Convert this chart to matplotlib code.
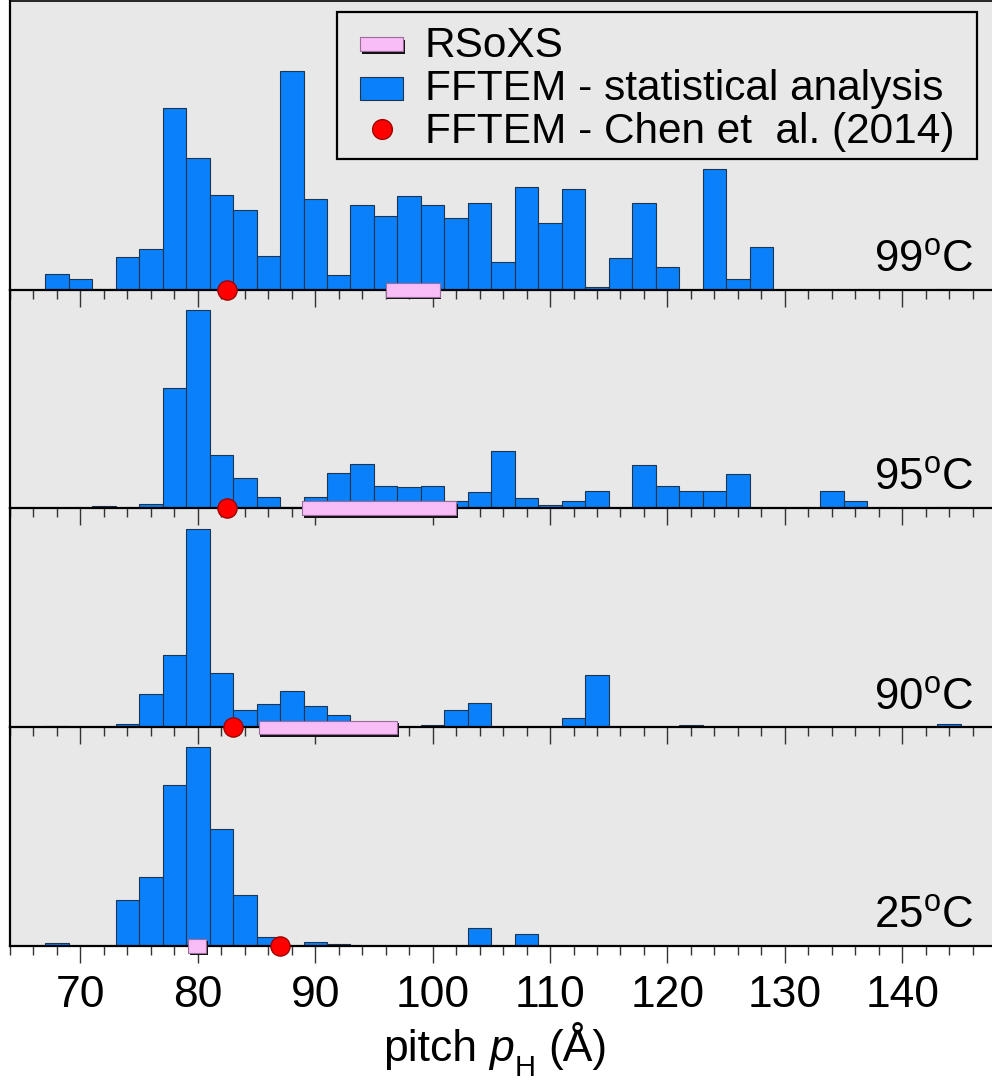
import matplotlib
matplotlib.use("Agg")
import matplotlib.pyplot as plt
import numpy as np
from matplotlib.patches import Rectangle
from matplotlib.lines import Line2D
from matplotlib import transforms
from matplotlib.ticker import MultipleLocator

plt.rcParams["font.family"] = ["Liberation Sans", "DejaVu Sans"]
plt.rcParams["mathtext.fontset"] = "custom"
plt.rcParams["mathtext.rm"] = "Liberation Sans"
plt.rcParams["mathtext.it"] = "Liberation Sans:italic"

# ---------------------------------------------------------------- data
# 2 Å wide pitch bins (centres), histograms normalised to their peak bin
bin_centers = np.arange(68, 146, 2)

hist_99C = [7.3, 4.9, 0.3, 15.2, 18.9, 83.0, 60.3, 43.4, 36.4, 15.7,
            100.0, 41.6, 6.8, 39.0, 33.7, 42.8, 38.8, 32.7, 39.7, 12.6,
            46.9, 30.5, 46.1, 1.2, 14.7, 39.9, 10.5, 0.0, 55.1, 5.2,
            19.6, 0.0, 0.0, 0.0, 0.0, 0.0, 0.0, 0.0, 0.6]
hist_95C = [0.2, 0.0, 1.0, 0.3, 2.4, 60.7, 100.0, 26.9, 15.1, 5.5,
            0.5, 5.9, 17.6, 22.2, 11.4, 10.7, 11.1, 3.5, 8.3, 29.1,
            5.0, 1.7, 3.5, 8.6, 0.0, 21.7, 11.1, 8.6, 8.6, 17.5,
            0.0, 0.0, 0.0, 8.6, 3.7, 0.0, 0.0, 0.0, 0.5]
hist_90C = [0.7, 0.0, 0.0, 1.5, 16.6, 36.3, 100.0, 27.2, 8.7, 11.7,
            18.2, 10.9, 6.2, 0.0, 0.0, 0.0, 1.2, 8.7, 12.1, 0.0,
            0.0, 0.0, 4.5, 26.6, 0.0, 0.0, 0.0, 1.0, 0.0, 0.0,
            0.0, 0.0, 0.0, 0.0, 0.0, 0.0, 0.0, 0.0, 1.5]
hist_25C = [1.4, 0.0, 0.0, 23.0, 34.6, 81.2, 100.0, 58.6, 25.6, 4.4,
            0.0, 1.7, 0.7, 0.0, 0.0, 0.0, 0.0, 0.0, 8.9, 0.0,
            6.1, 0.0, 0.0, 0.0, 0.0, 0.0, 0.0, 0.0, 0.0, 0.0,
            0.0, 0.0, 0.0, 0.0, 0.0, 0.0, 0.0, 0.0, 0.0]

temperatures = ["99", "95", "90", "25"]
histograms = [hist_99C, hist_95C, hist_90C, hist_25C]

# RSoXS pitch: centre and half range (Å)
rsoxs_center = [98.3, 95.45, 91.1, 79.95]
rsoxs_halfwidth = [2.3, 6.55, 5.9, 0.75]

# FFTEM pitch from Chen et al. (2014), Å
chen_pitch = [82.5, 82.5, 83.0, 87.0]

x_ticks_major = [70, 80, 90, 100, 110, 120, 130, 140]

# ---------------------------------------------------------------- style
W, H, DPI = 992, 1084, 100
BG = "#E8E8E8"
BLUE = "#0A80FA"
BAR_EDGE = "#1E3550"
PINK = "#F8BCF6"
PINK_EDGE = "#9A6C9A"
RED = "#FF0000"
RED_EDGE = "#A00000"
FS = 32

fig = plt.figure(figsize=(W / DPI, H / DPI), dpi=DPI, facecolor="white")


def fx(px):
    return px / W


def fy(py):
    return 1 - py / H


left_px = 10
panel_edges = [1, 290, 508.3, 727.3, 945.7]
ylims = [132.0, 110.1, 110.4, 110.1]

# grey plotting background shared by all panels
fig.patches.append(Rectangle((fx(left_px), fy(panel_edges[-1])),
                             1 - fx(left_px), fy(panel_edges[0]) - fy(panel_edges[-1]),
                             transform=fig.transFigure, facecolor=BG,
                             edgecolor="none", zorder=-5))

axes = []
for i in range(4):
    top, bot = panel_edges[i], panel_edges[i + 1]
    ax = fig.add_axes([fx(left_px), fy(bot), 1 - fx(left_px), (bot - top) / H])
    ax.set_facecolor("none")
    ax.set_xlim(64, 64 + (W - left_px) / 11.74)
    ax.set_ylim(0, ylims[i])
    ax.set_yticks([])
    ax.spines["right"].set_visible(False)
    ax.spines["top"].set_visible(i == 0)
    ax.spines["top"].set_linewidth(1.2)
    ax.spines["left"].set_linewidth(1.6)
    ax.spines["bottom"].set_linewidth(1.6)
    ax.xaxis.set_major_locator(plt.FixedLocator(x_ticks_major))
    ax.xaxis.set_minor_locator(MultipleLocator(2))
    ax.tick_params(axis="x", which="major", direction="out", length=12,
                   width=1.0, color="#333333", labelsize=FS, pad=9,
                   labelbottom=(i == 3))
    ax.tick_params(axis="x", which="minor", direction="out", length=6.2,
                   width=1.0, color="#333333")

    # histogram bars
    ax.bar(bin_centers, histograms[i], width=2, color=BLUE,
           edgecolor=BAR_EDGE, linewidth=0.8, zorder=2)

    # RSoXS range: pink bar with a drop shadow, straddling the baseline
    ah = (bot - top)
    tr = transforms.blended_transform_factory(ax.transData, ax.transAxes)
    lo = rsoxs_center[i] - rsoxs_halfwidth[i]
    wdt = 2 * rsoxs_halfwidth[i]
    shadow_tr = tr + transforms.ScaledTranslation(1.5 / DPI, -2.5 / DPI,
                                                  fig.dpi_scale_trans)
    ax.add_patch(Rectangle((lo, -6.8 / ah), wdt, 13.6 / ah, transform=shadow_tr,
                           facecolor="#111111", edgecolor="none",
                           clip_on=False, zorder=4))
    ax.add_patch(Rectangle((lo, -6.8 / ah), wdt, 13.6 / ah, transform=tr,
                           facecolor=PINK, edgecolor=PINK_EDGE, linewidth=0.8,
                           clip_on=False, zorder=5))

    # Chen et al. point
    ax.plot([chen_pitch[i]], [0], "o", ms=13.8, mfc=RED, mec=RED_EDGE,
            mew=1.0, clip_on=False, zorder=6)

    # temperature tag
    fig.text(fx(973), fy(bot - 18), temperatures[i] + r"$^{\mathregular{o}}$C",
             ha="right", va="baseline", fontsize=31.5)
    axes.append(ax)

# x-axis title, composed piecewise so the subscript sits low and large
renderer = fig.canvas.get_renderer()
label_parts = [("pitch", "normal", FS, 0, 12.3),
               ("p", "italic", FS, 0, 1.0),
               ("H", "normal", 21, -15, 12.3),
               ("(Å)", "normal", FS, 0, 0)]
label_base_y = 1061.5
pieces = []
total = 0.0
for txt, style, size, dy, gap in label_parts:
    t = fig.text(0, fy(label_base_y - dy), txt, ha="left", va="baseline",
                 fontsize=size, style=style)
    w = t.get_window_extent(renderer).width
    pieces.append((t, w, gap))
    total += w + gap
xcur = 495 - total / 2
for t, w, gap in pieces:
    t.set_x(fx(xcur))
    xcur += w + gap

# ---------------------------------------------------------------- legend
leg_l, leg_t, leg_r, leg_b = 336.7, 11.7, 977.3, 159
fig.patches.append(Rectangle((fx(leg_l), fy(leg_b)), fx(leg_r) - fx(leg_l),
                             fy(leg_t) - fy(leg_b), transform=fig.transFigure,
                             facecolor=BG, edgecolor="black", linewidth=1.6,
                             zorder=10))
sh = transforms.ScaledTranslation(1.5 / DPI, -2.5 / DPI, fig.dpi_scale_trans)
fig.patches.append(Rectangle((fx(360), fy(51)), fx(403) - fx(360), fy(37) - fy(51),
                             transform=fig.transFigure + sh, facecolor="#111111",
                             edgecolor="none", zorder=11))
fig.patches.append(Rectangle((fx(360), fy(51)), fx(403) - fx(360), fy(37) - fy(51),
                             transform=fig.transFigure, facecolor=PINK,
                             edgecolor=PINK_EDGE, linewidth=0.8, zorder=12))
fig.patches.append(Rectangle((fx(360), fy(100)), fx(403) - fx(360), fy(77) - fy(100),
                             transform=fig.transFigure, facecolor=BLUE,
                             edgecolor=BAR_EDGE, linewidth=0.8, zorder=12))
fig.lines.append(Line2D([fx(381.7)], [fy(129.3)], marker="o", ms=14.2,
                        mfc=RED, mec=RED_EDGE, mew=1.0, linestyle="none",
                        transform=fig.transFigure, zorder=12))
legend_labels = ["RSoXS", "FFTEM - statistical analysis",
                 "FFTEM - Chen et  al. (2014)"]
for lab, yb in zip(legend_labels, [56.7, 100, 143.3]):
    fig.text(fx(425), fy(yb), lab, ha="left", va="baseline", fontsize=30.5,
             zorder=13)

fig.savefig("out.png", dpi=DPI, facecolor="white")
